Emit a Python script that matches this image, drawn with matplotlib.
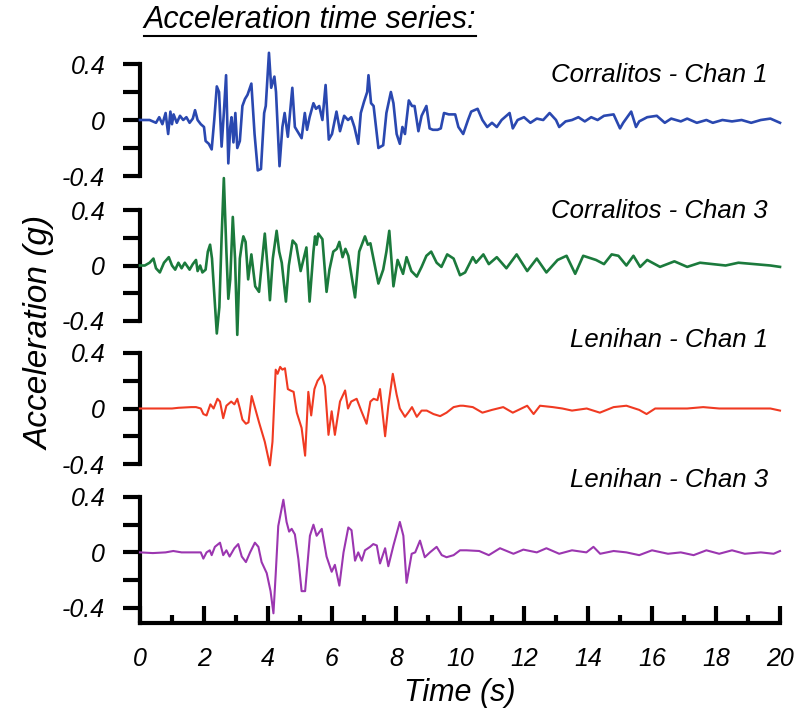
import numpy as np
import matplotlib
matplotlib.use("Agg")
import matplotlib.pyplot as plt
from matplotlib.lines import Line2D

plt.rcParams['font.family'] = ['Liberation Sans', 'DejaVu Sans']
plt.rcParams['font.style'] = 'italic'

# peaks / troughs (time in s, acceleration in g)
t_cor1 = [0, 0.3, 0.5, 0.6, 0.7, 0.8, 0.88, 0.95, 1.0, 1.05, 1.15, 1.25, 1.35, 1.45, 1.55, 1.65, 1.72, 1.8, 1.9, 2.0,
          2.05, 2.15, 2.24, 2.32, 2.4, 2.47, 2.55, 2.62, 2.69, 2.76, 2.82, 2.86, 2.92, 2.98, 3.04, 3.12, 3.2, 3.28, 3.36,
          3.48, 3.58, 3.68, 3.78, 3.88, 3.93, 4.03, 4.1, 4.2, 4.25, 4.36, 4.45, 4.52, 4.62, 4.76, 4.84, 4.92, 5.05, 5.15,
          5.22, 5.3, 5.42, 5.5, 5.6, 5.7, 5.8, 5.9, 6.0, 6.14, 6.25, 6.38, 6.5, 6.6, 6.7, 6.82, 6.9, 7.0, 7.1, 7.14, 7.22,
          7.3, 7.45, 7.6, 7.7, 7.84, 7.92, 8.02, 8.12, 8.2, 8.28, 8.4, 8.5, 8.58, 8.7, 8.8, 8.95, 9.05, 9.15, 9.3, 9.4,
          9.5, 9.65, 9.85, 9.95, 10.1, 10.25, 10.35, 10.55, 10.7, 10.85, 11.0, 11.15, 11.3, 11.55, 11.65, 11.8, 12.0,
          12.2, 12.4, 12.6, 12.8, 13.0, 13.1, 13.3, 13.5, 13.7, 13.9, 14.1, 14.3, 14.5, 14.8, 15.0, 15.1, 15.35, 15.5,
          15.6, 15.85, 16.15, 16.4, 16.6, 16.9, 17.1, 17.4, 17.7, 17.9, 18.2, 18.5, 18.8, 19.1, 19.4, 19.7, 20.0]
a_cor1 = [0, 0.0, -0.02, 0.02, -0.03, 0.05, -0.1, 0.06, -0.03, 0.04, -0.02, 0.03, 0.0, 0.02, -0.02, 0.01, 0.07, 0.0,
          -0.03, -0.05, -0.15, -0.17, -0.21, 0.0, 0.24, 0.2, -0.19, 0.05, 0.32, -0.31, -0.05, 0.02, -0.16, 0.05, -0.2,
          -0.15, 0.1, 0.15, 0.18, 0.26, -0.1, -0.36, -0.35, 0.05, 0.1, 0.48, 0.23, 0.31, 0.2, -0.33, -0.05, 0.05, -0.12,
          0.23, -0.05, -0.08, -0.13, 0.05, -0.07, 0.02, 0.12, 0.08, 0.1, 0.0, 0.25, -0.14, -0.1, 0.06, -0.08, 0.03, 0.0,
          0.02, -0.05, -0.17, 0.05, 0.13, 0.2, 0.32, 0.12, 0.1, -0.2, -0.18, 0.05, 0.2, 0.12, -0.1, -0.17, -0.05, -0.1,
          0.14, 0.1, 0.1, -0.08, 0.03, 0.1, -0.06, -0.07, -0.07, -0.06, 0.05, 0.04, 0.04, -0.05, -0.1, 0.0, 0.06, 0.08,
          0.0, -0.05, -0.02, -0.05, 0.0, 0.05, -0.06, 0.0, 0.02, -0.02, 0.01, 0.0, 0.05, 0.0, -0.05, -0.01, 0.0, 0.02,
          -0.01, 0.02, 0.0, 0.03, 0.04, -0.06, -0.02, 0.06, -0.05, -0.01, 0.02, 0.03, -0.02, 0.01, -0.01, 0.01, -0.02,
          0.0, -0.02, 0.0, -0.01, 0.0, -0.02, 0.0, 0.01, -0.02]

t_cor3 = [0, 0.15, 0.3, 0.42, 0.5, 0.62, 0.75, 0.9, 1.0, 1.1, 1.2, 1.3, 1.4, 1.55, 1.65, 1.75, 1.8, 1.88, 1.95, 2.05,
          2.12, 2.19, 2.25, 2.4, 2.48, 2.55, 2.62, 2.7, 2.76, 2.82, 2.9, 2.97, 3.04, 3.12, 3.18, 3.23, 3.3, 3.38, 3.48,
          3.6, 3.72, 3.8, 3.9, 4.0, 4.06, 4.15, 4.27, 4.35, 4.43, 4.56, 4.65, 4.77, 4.88, 5.02, 5.2, 5.3, 5.42, 5.47,
          5.52, 5.57, 5.7, 5.83, 5.92, 6.04, 6.15, 6.23, 6.33, 6.42, 6.51, 6.72, 6.85, 7.03, 7.12, 7.2, 7.45, 7.6, 7.7,
          7.79, 7.92, 8.05, 8.22, 8.33, 8.48, 8.65, 8.8, 8.95, 9.1, 9.27, 9.42, 9.6, 9.8, 10.0, 10.16, 10.4, 10.5,
          10.73, 10.9, 11.15, 11.45, 11.77, 12.1, 12.4, 12.7, 13.05, 13.33, 13.6, 13.85, 14.25, 14.5, 14.74, 14.95,
          15.2, 15.42, 15.63, 15.85, 16.25, 16.7, 17.1, 17.5, 17.9, 18.3, 18.7, 19.2, 19.7, 20.0]
a_cor3 = [0.0, 0.0, 0.02, 0.05, -0.02, -0.05, 0.02, 0.06, 0.0, -0.03, 0.02, -0.02, 0.02, -0.03, 0.01, 0.04, -0.04,
          0.0, -0.05, -0.03, 0.1, 0.15, 0.05, -0.49, -0.3, 0.2, 0.63, 0.1, -0.24, -0.1, 0.35, 0.05, -0.5, 0.05, 0.15,
          0.21, 0.17, -0.1, 0.08, -0.15, -0.19, 0.0, 0.23, -0.05, -0.25, 0.05, 0.25, 0.1, 0.02, -0.26, 0.0, 0.18, 0.15,
          -0.04, 0.13, -0.26, 0.1, 0.21, 0.15, 0.23, 0.19, -0.19, -0.03, 0.1, 0.12, 0.17, 0.06, 0.12, 0.07, -0.23, 0.1,
          0.21, 0.15, 0.16, -0.13, -0.03, 0.1, 0.25, -0.15, 0.04, -0.06, 0.06, -0.04, -0.08, -0.01, 0.07, 0.1, 0.02,
          -0.01, 0.08, 0.05, -0.07, -0.05, 0.06, 0.02, 0.08, 0.01, 0.06, -0.02, 0.08, -0.04, 0.05, -0.05, 0.04, 0.07,
          -0.06, 0.07, 0.04, 0.01, 0.08, 0.07, 0.0, 0.07, -0.01, 0.04, -0.01, 0.03, -0.01, 0.02, 0.01, 0.0, 0.02, 0.01,
          0.0, -0.01]

t_len1 = [0, 0.5, 1.0, 1.2, 1.6, 1.75, 1.9, 1.98, 2.08, 2.2, 2.3, 2.42, 2.5, 2.6, 2.7, 2.85, 2.95, 3.04, 3.12, 3.2,
          3.31, 3.39, 3.49, 3.6, 3.72, 3.9, 4.06, 4.14, 4.24, 4.3, 4.38, 4.45, 4.53, 4.62, 4.7, 4.8, 4.9, 5.05, 5.16,
          5.26, 5.35, 5.45, 5.55, 5.68, 5.78, 5.89, 5.99, 6.09, 6.25, 6.41, 6.5, 6.6, 6.77, 6.92, 7.08, 7.2, 7.3, 7.42,
          7.5, 7.66, 7.76, 7.9, 8.02, 8.12, 8.28, 8.38, 8.5, 8.65, 8.8, 8.96, 9.17, 9.38, 9.58, 9.8, 10.0, 10.1, 10.4,
          10.7, 11.0, 11.35, 11.65, 12.1, 12.3, 12.5, 12.9, 13.2, 13.5, 13.96, 14.37, 14.8, 15.2, 15.6, 15.83, 16.1,
          16.6, 17.1, 17.6, 18.1, 18.7, 19.3, 19.7, 20.0]
a_len1 = [0.0, 0.0, 0.0, 0.005, 0.01, 0.01, 0.0, -0.04, -0.05, 0.03, 0.0, 0.07, 0.05, -0.07, 0.02, 0.05, 0.03, 0.07,
          0.0, -0.08, -0.11, -0.1, 0.09, 0.0, -0.1, -0.24, -0.41, -0.24, 0.28, 0.25, 0.3, 0.28, 0.29, 0.14, 0.13, 0.12,
          -0.03, -0.14, -0.34, 0.12, -0.05, 0.14, 0.2, 0.24, 0.16, -0.19, -0.02, -0.19, 0.05, 0.13, 0.0, 0.05, 0.07,
          -0.02, -0.11, 0.05, 0.07, 0.06, 0.14, -0.2, 0.02, 0.25, 0.1, 0.0, -0.06, -0.03, 0.01, -0.06, -0.015, -0.015,
          -0.04, -0.055, -0.03, 0.01, 0.02, 0.02, 0.01, -0.03, -0.01, 0.01, -0.03, 0.02, -0.04, 0.02, 0.01, 0.0,
          -0.015, 0.0, -0.03, 0.01, 0.02, -0.01, -0.04, 0.0, 0.0, 0.0, 0.01, 0.0, 0.0, 0.0, 0.0, -0.015]

t_len3 = [0, 0.4, 0.8, 1.04, 1.3, 1.7, 1.9, 1.98, 2.08, 2.18, 2.24, 2.34, 2.5, 2.6, 2.7, 2.8, 2.95, 3.07, 3.18, 3.31,
          3.44, 3.59, 3.7, 3.8, 3.96, 4.08, 4.17, 4.24, 4.32, 4.48, 4.58, 4.66, 4.74, 4.84, 4.95, 5.05, 5.16, 5.31,
          5.42, 5.52, 5.68, 5.83, 5.99, 6.09, 6.23, 6.36, 6.51, 6.61, 6.72, 6.82, 6.93, 7.03, 7.19, 7.29, 7.4, 7.5,
          7.66, 7.76, 7.92, 8.12, 8.23, 8.33, 8.49, 8.6, 8.75, 8.9, 9.06, 9.27, 9.43, 9.58, 9.8, 10.0, 10.2, 10.6,
          10.9, 11.25, 11.67, 11.98, 12.4, 12.7, 13.1, 13.5, 13.95, 14.17, 14.38, 14.8, 15.2, 15.6, 16.0, 16.5, 16.9,
          17.3, 17.7, 18.1, 18.5, 18.9, 19.4, 19.8, 20.0]
a_len3 = [0.0, -0.005, 0.0, 0.01, 0.0, 0.0, 0.0, -0.045, 0.0, 0.015, -0.02, 0.04, 0.07, -0.02, 0.015, -0.03, 0.03,
          0.06, -0.03, -0.07, 0.0, 0.07, 0.04, -0.07, -0.15, -0.28, -0.44, -0.16, 0.19, 0.38, 0.22, 0.15, 0.17, 0.13,
          -0.05, -0.28, -0.28, 0.12, 0.2, 0.12, 0.17, -0.03, -0.14, -0.09, -0.24, 0.0, 0.18, 0.16, -0.06, 0.0, -0.06,
          0.015, 0.04, 0.06, 0.05, -0.08, 0.03, -0.1, 0.05, 0.22, 0.12, -0.22, -0.01, 0.0, 0.085, -0.035, 0.0, 0.04,
          -0.02, -0.035, -0.02, 0.015, 0.015, 0.01, -0.02, 0.03, -0.01, 0.02, 0.0, 0.03, -0.01, 0.015, 0.0, 0.04,
          -0.01, 0.01, 0.0, -0.02, 0.015, -0.01, 0.0, -0.02, 0.015, -0.01, 0.015, -0.01, 0.0, -0.01, 0.01]

labels = ['Corralitos - Chan 1', 'Corralitos - Chan 3', 'Lenihan - Chan 1', 'Lenihan - Chan 3']
colors = ['#2a48b0', '#1b7a3c', '#f03a22', '#9b36b0']
series = [(t_cor1, a_cor1), (t_cor3, a_cor3), (t_len1, a_len1), (t_len3, a_len3)]

W, H = 799, 717
fig = plt.figure(figsize=(W / 100, H / 100), dpi=100)

# panel boxes in pixels: (top, bottom) of the axes
boxes = [(64, 176), (210, 321), (353, 464), (497, 623)]
label_y = [75, 211, 340, 480]
x0, x1 = 140, 780

axes = []
for i, (top, bot) in enumerate(boxes):
    ax = fig.add_axes([x0 / W, 1 - bot / H, (x1 - x0) / W, (bot - top) / H])
    ax.patch.set_visible(False)
    t, a = series[i]
    ax.plot(t, a, color=colors[i], lw=1.9 if i < 2 else 1.5, clip_on=False, zorder=3)
    ax.set_xlim(0, 20)
    last = i == len(boxes) - 1
    ax.set_ylim(-0.51 if last else -0.4, 0.4)
    for s in ['top', 'right']:
        ax.spines[s].set_visible(False)
    ax.spines['left'].set_linewidth(3)
    ax.spines['left'].set_bounds(-0.51 if last else -0.4, 0.4)
    ax.set_yticks([-0.4, 0, 0.4])
    ax.set_yticklabels(['-0.4', '0', '0.4'])
    ax.set_yticks([-0.2, 0.2], minor=True)
    ax.tick_params(axis='y', which='both', direction='out', length=12, width=3, labelsize=18, pad=13)
    if last:
        ax.spines['bottom'].set_linewidth(3)
        ax.set_xticks(np.arange(0, 21, 2))
        ax.set_xticks(np.arange(1, 20, 2), minor=True)
        ax.tick_params(axis='x', which='major', direction='in', length=12, width=3, labelsize=18, pad=17)
        ax.tick_params(axis='x', which='minor', direction='in', length=6, width=3)
        ax.set_xlabel('Time (s)', fontsize=22, labelpad=5)
    else:
        ax.spines['bottom'].set_visible(False)
        ax.set_xticks([])
    fig.text(768 / W, 1 - label_y[i] / H, labels[i], ha='right', va='center', fontsize=18.5)
    axes.append(ax)

fig.text(40 / W, 1 - 333 / H, 'Acceleration (g)', rotation=90, ha='center', va='center', fontsize=24)

title = fig.text(310 / W, 1 - 20 / H, 'Acceleration time series:', ha='center', va='center', fontsize=22)
fig.canvas.draw()
bb = title.get_window_extent()
uy = bb.y0 - 1
fig.add_artist(Line2D([bb.x0 / W, bb.x1 / W], [uy / H, uy / H], color='black', lw=1.5,
                      transform=fig.transFigure))

fig.savefig('out.png', dpi=100)
